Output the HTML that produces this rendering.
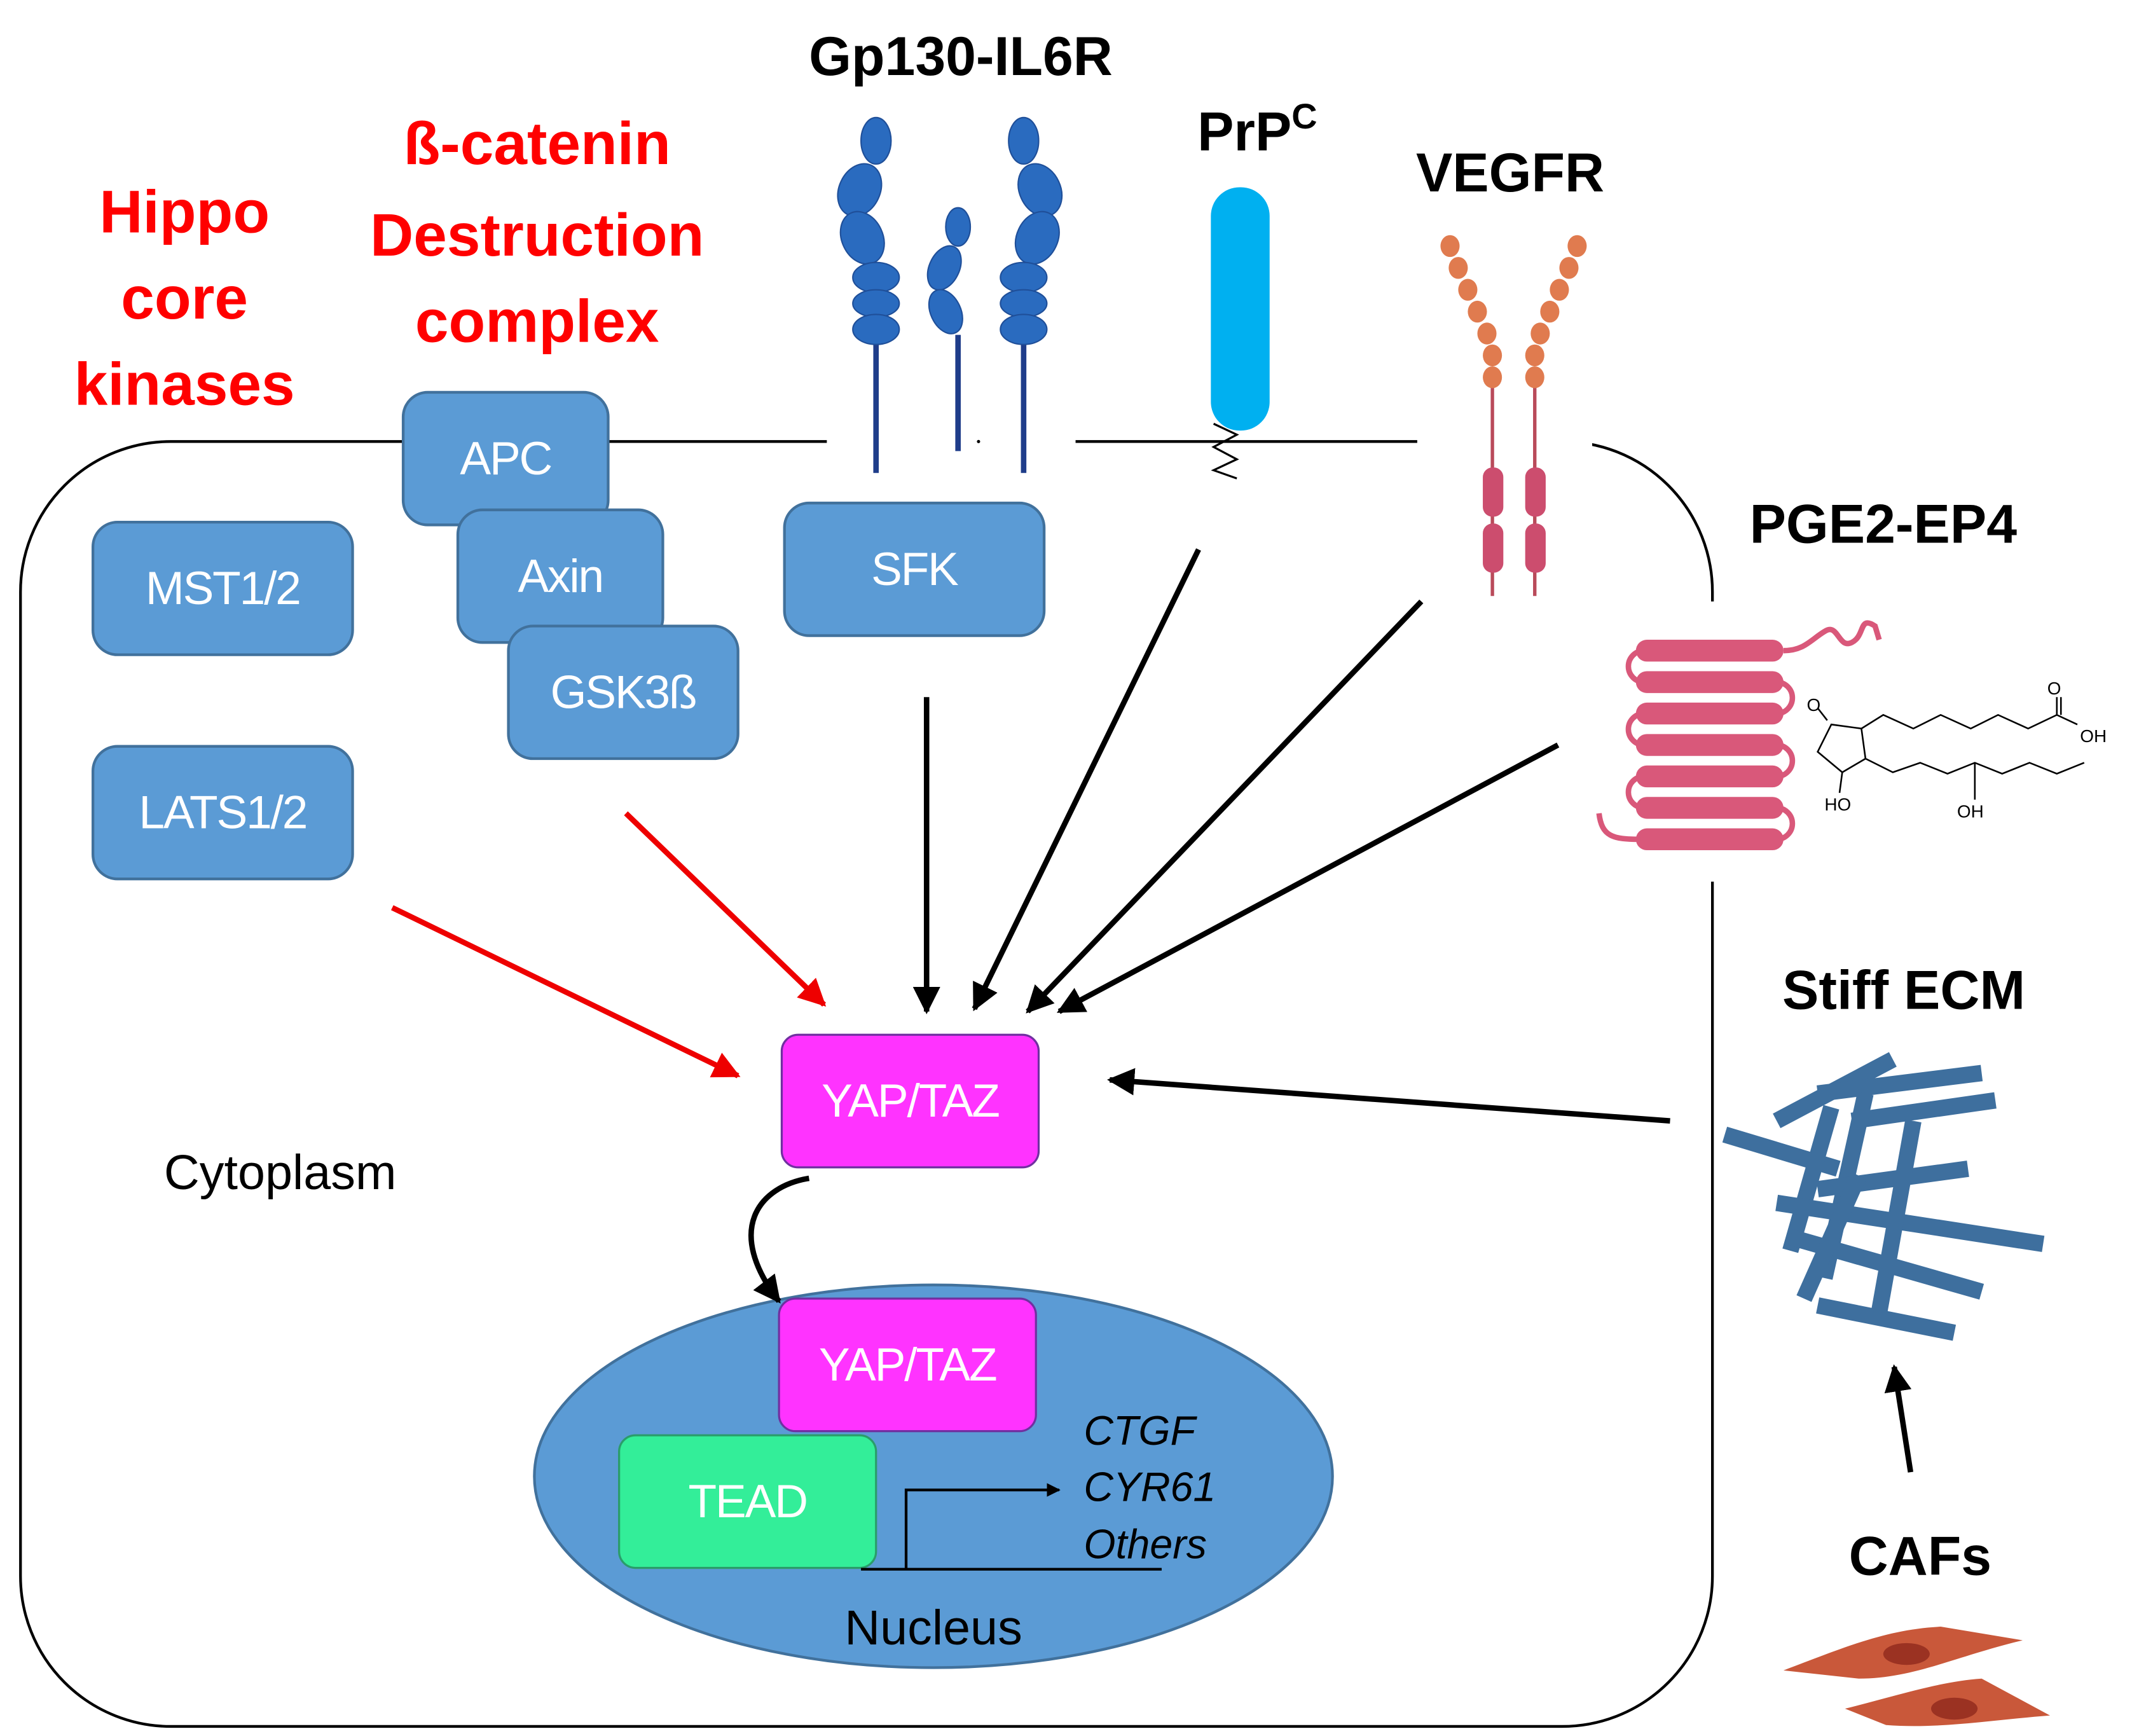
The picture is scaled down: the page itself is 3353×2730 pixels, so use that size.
<!DOCTYPE html>
<html><head><meta charset="utf-8"><style>
html,body{margin:0;padding:0;background:#fff}
svg{display:block}
text{font-family:"Liberation Sans","DejaVu Sans",sans-serif}
.t{font-weight:bold;font-size:44px;fill:#ff0000;text-anchor:middle}
.k{font-weight:bold;font-size:40px;fill:#000;text-anchor:middle}
.b{fill:#5b9bd5;stroke:#41719c;stroke-width:2}
.w{fill:#fff;font-size:34px;text-anchor:middle;letter-spacing:-1px}
.c{fill:#2a6bbf;stroke:#1f4f99;stroke-width:1}
.o{fill:#e07b4f}
.p{fill:#cc4d6e}
</style></head><body>
<svg width="3353" height="2730" viewBox="0 0 1560 1270" preserveAspectRatio="none">
<defs>
<marker id="ab" viewBox="0 0 10 10" refX="9" refY="5" markerWidth="5" markerHeight="5" orient="auto"><path d="M0,0L10,5L0,10z" fill="#000"/></marker>
<marker id="ar" viewBox="0 0 10 10" refX="9" refY="5" markerWidth="5" markerHeight="5" orient="auto"><path d="M0,0L10,5L0,10z" fill="#e00"/></marker>
</defs>
<rect x="15" y="323" width="1238" height="940" rx="110" fill="none" stroke="#000" stroke-width="2"/>
<rect x="605" y="315" width="182" height="16" fill="#fff"/>
<rect x="1037" y="315" width="128" height="30" fill="#fff"/>
<rect x="1240" y="440" width="25" height="205" fill="#fff"/>
<circle cx="716" cy="323" r="1.2" fill="#000"/>
<text class="t" x="135" y="170">Hippo</text>
<text class="t" x="135" y="233">core</text>
<text class="t" x="135" y="296">kinases</text>
<text class="t" x="393" y="120">ß-catenin</text>
<text class="t" x="393" y="187">Destruction</text>
<text class="t" x="393" y="250">complex</text>
<text class="k" x="703" y="55">Gp130-IL6R</text>
<text class="k" x="920" y="110">PrP<tspan font-size="26" dy="-16">C</tspan></text>
<text class="k" x="1105" y="140">VEGFR</text>
<text class="k" x="1378" y="397">PGE2-EP4</text>
<text class="k" x="1393" y="738">Stiff ECM</text>
<text class="k" x="1405" y="1152">CAFs</text>
<text x="120" y="870" font-size="36">Cytoplasm</text>
<rect class="b" x="295" y="287" width="150" height="97" rx="18"/><text class="w" x="370" y="347">APC</text>
<rect class="b" x="335" y="373" width="150" height="97" rx="18"/><text class="w" x="410" y="433">Axin</text>
<rect class="b" x="372" y="458" width="168" height="97" rx="18"/><text class="w" x="456" y="518">GSK3ß</text>
<rect class="b" x="68" y="382" width="190" height="97" rx="18"/><text class="w" x="163" y="442">MST1/2</text>
<rect class="b" x="68" y="546" width="190" height="97" rx="18"/><text class="w" x="163" y="606">LATS1/2</text>
<rect class="b" x="574" y="368" width="190" height="97" rx="18"/><text class="w" x="669" y="428">SFK</text>
<rect x="572" y="757" width="188" height="97" rx="12" fill="#ff33ff" stroke="#7030a0" stroke-width="1.5"/><text class="w" x="666" y="817">YAP/TAZ</text>
<ellipse cx="683" cy="1080" rx="292" ry="140" class="b"/>
<rect x="570" y="950" width="188" height="97" rx="12" fill="#ff33ff" stroke="#7030a0" stroke-width="1.5"/><text class="w" x="664" y="1010">YAP/TAZ</text>
<rect x="453" y="1050" width="188" height="97" rx="12" fill="#33ee99" stroke="#2a9d6a" stroke-width="1.5"/><text class="w" x="547" y="1110">TEAD</text>
<path d="M630 1148 H850" stroke="#000" stroke-width="2"/>
<path d="M663 1148 V1090 H775" stroke="#000" stroke-width="2" fill="none" marker-end="url(#ab)"/>
<g font-style="italic" font-size="30"><text x="793" y="1057">CTGF</text><text x="793" y="1098">CYR61</text><text x="793" y="1140">Others</text></g>
<text x="683" y="1203" font-size="36" text-anchor="middle">Nucleus</text>
<g stroke-width="4" fill="none">
<line x1="287" y1="664" x2="540" y2="787" stroke="#e00" marker-end="url(#ar)"/>
<line x1="458" y1="595" x2="603" y2="735" stroke="#e00" marker-end="url(#ar)"/>
<g stroke="#000" marker-end="url(#ab)">
<line x1="678" y1="510" x2="678" y2="740"/>
<line x1="877" y1="402" x2="713" y2="738"/>
<line x1="1040" y1="440" x2="752" y2="740"/>
<line x1="1140" y1="545" x2="775" y2="740"/>
<line x1="1222" y1="820" x2="812" y2="790"/>
<line x1="1398" y1="1077" x2="1386" y2="1000"/>
<path d="M592 862 C555 868 530 900 570 952"/>
</g></g>
<g stroke="#1f3d8a" stroke-width="4"><line x1="641" y1="250" x2="641" y2="346"/><line x1="749" y1="250" x2="749" y2="346"/><line x1="701" y1="245" x2="701" y2="330"/></g>
<g class="c">
<ellipse cx="641" cy="103" rx="11" ry="17"/>
<ellipse cx="629" cy="139" rx="15" ry="20" transform="rotate(25 629 139)"/>
<ellipse cx="631" cy="174" rx="15" ry="20" transform="rotate(-25 631 174)"/>
<ellipse cx="641" cy="203" rx="17" ry="11"/><ellipse cx="641" cy="222" rx="17" ry="10"/><ellipse cx="641" cy="241" rx="17" ry="11"/>
<ellipse cx="749" cy="103" rx="11" ry="17"/>
<ellipse cx="761" cy="139" rx="15" ry="20" transform="rotate(-25 761 139)"/>
<ellipse cx="759" cy="174" rx="15" ry="20" transform="rotate(25 759 174)"/>
<ellipse cx="749" cy="203" rx="17" ry="11"/><ellipse cx="749" cy="222" rx="17" ry="10"/><ellipse cx="749" cy="241" rx="17" ry="11"/>
<ellipse cx="701" cy="166" rx="9" ry="14"/>
<ellipse cx="691" cy="196" rx="11" ry="17" transform="rotate(25 691 196)"/>
<ellipse cx="692" cy="228" rx="11" ry="17" transform="rotate(-25 692 228)"/>
</g>
<rect x="886" y="137" width="43" height="178" rx="21" fill="#00b0f0"/>
<path d="M888 310 L905 318 L888 327 L905 336 L888 344 L905 350" stroke="#000" stroke-width="1.5" fill="none"/>
<g stroke="#b94a5a" stroke-width="2.5"><line x1="1092" y1="283" x2="1092" y2="436"/><line x1="1123" y1="283" x2="1123" y2="436"/></g>
<g class="o">
<ellipse cx="1061" cy="180" rx="7" ry="8"/><ellipse cx="1067" cy="196" rx="7" ry="8"/><ellipse cx="1074" cy="212" rx="7" ry="8"/><ellipse cx="1081" cy="228" rx="7" ry="8"/><ellipse cx="1088" cy="244" rx="7" ry="8"/><ellipse cx="1092" cy="260" rx="7" ry="8"/><ellipse cx="1092" cy="276" rx="7" ry="8"/>
<ellipse cx="1154" cy="180" rx="7" ry="8"/><ellipse cx="1148" cy="196" rx="7" ry="8"/><ellipse cx="1141" cy="212" rx="7" ry="8"/><ellipse cx="1134" cy="228" rx="7" ry="8"/><ellipse cx="1127" cy="244" rx="7" ry="8"/><ellipse cx="1123" cy="260" rx="7" ry="8"/><ellipse cx="1123" cy="276" rx="7" ry="8"/>
</g>
<g class="p"><rect x="1085" y="342" width="15" height="36" rx="7"/><rect x="1085" y="383" width="15" height="36" rx="7"/><rect x="1116" y="342" width="15" height="36" rx="7"/><rect x="1116" y="383" width="15" height="36" rx="7"/></g>
<g fill="#d9587a">
<rect x="1197" y="468" width="108" height="16" rx="8"/><rect x="1197" y="491" width="108" height="16" rx="8"/><rect x="1197" y="514" width="108" height="16" rx="8"/><rect x="1197" y="537" width="108" height="16" rx="8"/><rect x="1197" y="560" width="108" height="16" rx="8"/><rect x="1197" y="583" width="108" height="16" rx="8"/><rect x="1197" y="606" width="108" height="16" rx="8"/>
</g>
<g fill="none" stroke="#d9587a" stroke-width="4">
<path d="M1203 476 a11 11 0 0 0 0 23 M1300 499 a11 11 0 0 1 0 23 M1203 522 a11 11 0 0 0 0 23 M1300 545 a11 11 0 0 1 0 23 M1203 568 a11 11 0 0 0 0 23 M1300 591 a11 11 0 0 1 0 23"/>
<path d="M1305 476 C1320 476 1325 468 1335 462 C1345 455 1345 475 1355 470 C1365 465 1360 450 1372 458 L1375 468"/>
<path d="M1200 614 C1180 614 1172 612 1170 595"/>
</g>
<g stroke="#000" stroke-width="1.2" fill="none">
<path d="M1340 530 L1330 550 L1348 565 L1365 555 L1362 533 Z"/>
<path d="M1362 533 L1378 523 L1400 533 L1420 523 L1442 533 L1462 523 L1484 533 L1505 523 L1520 530"/>
<path d="M1365 555 L1385 565 L1405 558 L1425 566 L1445 558 L1465 566 L1485 558 L1505 566 L1525 558"/>
<path d="M1337 527 L1330 518"/><path d="M1505 523 L1505 510 M1508 523 L1508 510"/><path d="M1348 565 L1346 580"/><path d="M1445 558 L1445 585"/>
</g>
<g font-size="13"><text x="1322" y="520">O</text><text x="1498" y="508">O</text><text x="1522" y="543">OH</text><text x="1335" y="593">HO</text><text x="1432" y="598">OH</text></g>
<g stroke="#3e6f9e" stroke-width="12" fill="none" stroke-linecap="butt">
<line x1="1262" y1="830" x2="1345" y2="855"/>
<line x1="1300" y1="820" x2="1385" y2="775"/>
<line x1="1330" y1="800" x2="1450" y2="785"/>
<line x1="1355" y1="820" x2="1460" y2="805"/>
<line x1="1340" y1="810" x2="1310" y2="915"/>
<line x1="1365" y1="800" x2="1335" y2="935"/>
<line x1="1300" y1="880" x2="1495" y2="910"/>
<line x1="1310" y1="905" x2="1450" y2="945"/>
<line x1="1330" y1="870" x2="1440" y2="855"/>
<line x1="1360" y1="860" x2="1320" y2="950"/>
<line x1="1330" y1="955" x2="1430" y2="975"/>
<line x1="1400" y1="820" x2="1375" y2="960"/>
</g>
<path d="M1305 1222 C1350 1205 1380 1192 1420 1190 L1480 1200 C1430 1212 1400 1228 1360 1228 Z" fill="#c9583a"/>
<ellipse cx="1395" cy="1210" rx="17" ry="8" fill="#9b3222"/>
<path d="M1350 1250 C1390 1240 1420 1230 1450 1228 L1500 1255 C1460 1258 1420 1265 1380 1262 Z" fill="#c9583a"/>
<ellipse cx="1430" cy="1250" rx="17" ry="8" fill="#9b3222"/>
</svg>
</body></html>
